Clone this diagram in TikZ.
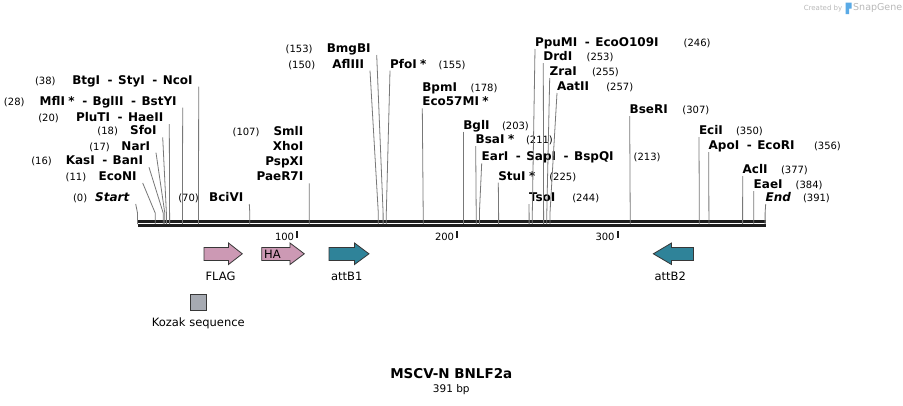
\documentclass[tikz,border=0pt]{standalone}
\usepackage{fontspec}
\setmainfont{DejaVu Sans}
\usepackage{tikz}
\usetikzlibrary{positioning}

\definecolor{cutgray}{RGB}{120,120,120}
\definecolor{bbone}{RGB}{30,30,30}
\definecolor{tagpink}{RGB}{204,153,180}
\definecolor{attteal}{RGB}{47,131,153}
\definecolor{kozakgray}{RGB}{166,170,178}
\definecolor{outl}{RGB}{55,55,55}
\definecolor{wmgray}{RGB}{185,185,185}
\definecolor{wmblue}{RGB}{90,170,230}

\newcommand{\enz}[1]{{\fontsize{12}{15.2}\selectfont\bfseries #1}}
\newcommand{\hy}{\hspace{7.5pt}-\hspace{5.5pt}}
\newcommand{\st}{\hspace{3.5pt}*}
\newcommand{\cutL}[3]{\makebox[#1pt][s]{#2\hfill\enz{#3}}}   % (nn) name, name ends at right
\newcommand{\cutR}[3]{\makebox[#1pt][l]{\enz{#2}}#3}         % name (nn)

\begin{document}
\begin{tikzpicture}[x=1pt,y=-1pt,
        lblL/.style={anchor=south east,inner sep=0pt,outer xsep=6pt,outer ysep=0pt,text depth=2.5pt,font=\fontsize{10}{15.2}\selectfont},
        lblR/.style={anchor=south west,inner sep=0pt,outer sep=0pt,text depth=2.5pt,font=\fontsize{10}{15.2}\selectfont},
        cut/.style={draw=cutgray,line width=0.8pt},
        feat/.style={font=\fontsize{11.5}{13}\selectfont,inner sep=0pt},
        tagarrow/.style={fill=tagpink,draw=outl,line width=0.8pt},
        attarrow/.style={fill=attteal,draw=outl,line width=0.8pt},
        tick/.style={line width=1.8pt,draw=bbone}]
    \fill[white] (0,0) rectangle (903,405);
    \useasboundingbox (0,0) rectangle (903,405);

    % backbone
    \coordinate (bbL) at (137.5,225.5);
    \coordinate (bbR) at (765.7,225.5);
    \draw[line width=2.8pt,bbone] (bbL) -- (bbR);
    \draw[line width=2.4pt,bbone] ([yshift=4.1pt]bbL) -- ([yshift=4.1pt]bbR);
    \coordinate (kn) at (0,213);   % where the slanted lines turn

    % ticks
    \draw[tick] (296.8,231) -- (296.8,238);
    \draw[tick] (457.3,231) -- (457.3,238);
    \draw[tick] (617.8,231) -- (617.8,238);
    \node[anchor=east,inner sep=0pt,font=\fontsize{10}{12}\selectfont] (t100) at (294.3,237) {100};
    \node[anchor=east,inner sep=0pt,font=\fontsize{10}{12}\selectfont] (t200) at (454.3,237) {200};
    \node[anchor=east,inner sep=0pt,font=\fontsize{10}{12}\selectfont] (t300) at (614.8,237) {300};

    % sites on the backbone
    \coordinate (s0) at (137.5,224.1);
    \coordinate (s11) at (155.2,224.1);
    \coordinate (s16) at (163.2,224.1);
    \coordinate (s17) at (164.8,224.1);
    \coordinate (s18) at (166.4,224.1);
    \coordinate (s20) at (169.6,224.1);
    \coordinate (s28) at (182.4,224.1);
    \coordinate (s38) at (198.5,224.1);
    \coordinate (s70) at (249.8,224.1);
    \coordinate (s107) at (309.2,224.1);
    \coordinate (s150) at (378.3,224.1);
    \coordinate (s153) at (383.1,224.1);
    \coordinate (s155) at (386.3,224.1);
    \coordinate (s178) at (423.2,224.1);
    \coordinate (s203) at (463.3,224.1);
    \coordinate (s211) at (476.2,224.1);
    \coordinate (s213) at (479.4,224.1);
    \coordinate (s225) at (498.6,224.1);
    \coordinate (s244) at (529.1,224.1);
    \coordinate (s246) at (532.3,224.1);
    \coordinate (s253) at (543.6,224.1);
    \coordinate (s255) at (546.8,224.1);
    \coordinate (s257) at (550.0,224.1);
    \coordinate (s307) at (630.2,224.1);
    \coordinate (s350) at (699.3,224.1);
    \coordinate (s356) at (708.9,224.1);
    \coordinate (s377) at (742.6,224.1);
    \coordinate (s384) at (753.8,224.1);
    \coordinate (s391) at (765.1,224.1);

    % labels left of their line
    \node[lblL] (l38) at (198.7,86.7) {\cutL{157.6}{(38)}{BtgI\hy StyI\hy NcoI}};
    \node[lblL] (l28) at (182.7,107.7) {\cutL{172.7}{(28)}{MflI\st\hy BglII\hy BstYI}};
    \node[lblL] (l20) at (169.3,124) {\cutL{125}{(20)}{PluTI\hy HaeII}};
    \node[lblL] (l18) at (162.7,137.3) {\cutL{59.3}{(18)}{SfoI}};
    \node[lblL] (l17) at (156,152.7) {\cutL{60.7}{(17)}{NarI}};
    \node[lblL] (l16) at (149,167.3) {\cutL{111.7}{(16)}{KasI\hy BanI}};
    \node[lblL] (l11) at (142.7,183) {\cutL{71}{(11)}{EcoNI}};
    \node[lblL] (l0) at (135.7,204) {\cutL{56.7}{(0)}{\textit{Start}}};
    \node[lblL] (l70) at (249.3,204) {\cutL{65}{(70)}{BciVI}};
    \node[lblL,align=right] (l107) at (309.3,183.3) {\cutL{70.7}{(107)}{SmlI}\\\enz{XhoI}\\\enz{PspXI}\\\enz{PaeR7I}};
    \node[lblL] (l150) at (370,70.7) {\cutL{75.7}{(150)}{AflIII}};
    \node[lblL] (l153) at (376.7,55) {\cutL{85}{(153)}{BmgBI}};

    % labels right of their line
    \node[lblR] (l155) at (390,70.7) {\cutR{48.7}{PfoI\st}{(155)}};
    \node[lblR,align=left] (l178) at (422.3,108.3) {\cutR{48.3}{BpmI}{(178)}\\[-0.8pt]\enz{Eco57MI\st}};
    \node[lblR] (l203) at (463.3,131.7) {\cutR{38.7}{BglI}{(203)}};
    \node[lblR] (l211) at (475.7,146) {\cutR{50.3}{BsaI\st}{(211)}};
    \node[lblR] (l213) at (481.7,163.3) {\cutR{152}{EarI\hy SapI\hy BspQI}{(213)}};
    \node[lblR] (l225) at (498.3,182.7) {\cutR{51}{StuI\st}{(225)}};
    \node[lblR] (l244) at (529,204) {\cutR{43.3}{TsoI}{(244)}};
    \node[lblR] (l246) at (535,49) {\cutR{148.7}{PpuMI\hy EcoO109I}{(246)}};
    \node[lblR] (l253) at (543.3,63) {\cutR{43.3}{DrdI}{(253)}};
    \node[lblR] (l255) at (549.7,78) {\cutR{42.3}{ZraI}{(255)}};
    \node[lblR] (l257) at (557,93) {\cutR{49.3}{AatII}{(257)}};
    \node[lblR] (l307) at (629.7,116) {\cutR{52.7}{BseRI}{(307)}};
    \node[lblR] (l350) at (699,137) {\cutR{37}{EciI}{(350)}};
    \node[lblR] (l356) at (708.7,152) {\cutR{105.3}{ApoI\hy EcoRI}{(356)}};
    \node[lblR] (l377) at (742.7,176) {\cutR{38.3}{AclI}{(377)}};
    \node[lblR] (l384) at (753.7,191) {\cutR{42}{EaeI}{(384)}};
    \node[lblR] (l391) at (765.7,204) {\cutR{37.3}{\textit{End}}{(391)}};

    % cut lines
    \draw[cut] (l0.south east) -- (s0 |- kn) -- (s0);
    \draw[cut] (l11.south east) -- (s11 |- kn) -- (s11);
    \draw[cut] (l16.south east) -- (s16 |- kn) -- (s16);
    \draw[cut] (l17.south east) -- (s17 |- kn) -- (s17);
    \draw[cut] (l18.south east) -- (s18 |- kn) -- (s18);
    \draw[cut] (l20.south east) -- (s20 |- kn) -- (s20);
    \draw[cut] (l28.south east) -- (s28 |- kn) -- (s28);
    \draw[cut] (l38.south east) -- (s38 |- kn) -- (s38);
    \draw[cut] (l70.south east) -- (s70 |- kn) -- (s70);
    \draw[cut] (l107.south east) -- (s107 |- kn) -- (s107);
    \draw[cut] (l150.south east) -- (s150 |- kn) -- (s150);
    \draw[cut] (l153.south east) -- (s153 |- kn) -- (s153);
    \draw[cut] (l155.south west) -- (s155 |- kn) -- (s155);
    \draw[cut] (l178.south west) -- (s178 |- kn) -- (s178);
    \draw[cut] (l203.south west) -- (s203 |- kn) -- (s203);
    \draw[cut] (l211.south west) -- (s211 |- kn) -- (s211);
    \draw[cut] (l213.south west) -- (s213 |- kn) -- (s213);
    \draw[cut] (l225.south west) -- (s225 |- kn) -- (s225);
    \draw[cut] (l244.south west) -- (s244 |- kn) -- (s244);
    \draw[cut] (l246.south west) -- (s246 |- kn) -- (s246);
    \draw[cut] (l253.south west) -- (s253 |- kn) -- (s253);
    \draw[cut] (l255.south west) -- (s255 |- kn) -- (s255);
    \draw[cut] (l257.south west) -- (s257 |- kn) -- (s257);
    \draw[cut] (l307.south west) -- (s307 |- kn) -- (s307);
    \draw[cut] (l350.south west) -- (s350 |- kn) -- (s350);
    \draw[cut] (l356.south west) -- (s356 |- kn) -- (s356);
    \draw[cut] (l377.south west) -- (s377 |- kn) -- (s377);
    \draw[cut] (l384.south west) -- (s384 |- kn) -- (s384);
    \draw[cut] (l391.south west) -- (s391 |- kn) -- (s391);

    % features
    \draw[tagarrow] (204,247.5) -- (228.5,247.5) -- (228.5,243) -- (242.3,253.8) -- (228.5,264.5) -- (228.5,260.5) -- (204,260.5) -- cycle;   %FLAG
    \draw[tagarrow] (261.7,247.5) -- (290,247.5) -- (290,243) -- (304.3,253.8) -- (290,264.5) -- (290,260.5) -- (261.7,260.5) -- cycle;   %HA
    \draw[attarrow] (329,247.5) -- (354.5,247.5) -- (354.5,243) -- (369,253.8) -- (354.5,264.5) -- (354.5,260.5) -- (329,260.5) -- cycle;   %attB1
    \draw[attarrow] (693.5,247.5) -- (671.5,247.5) -- (671.5,243) -- (653.3,253.8) -- (671.5,264.5) -- (671.5,260.5) -- (693.5,260.5) -- cycle;   %attB2
    \node[feat,anchor=west] (ha) at (264,254.3) {HA};
    \node[feat] (flag) at (220.5,276.5) {FLAG};
    \node[feat] (attb1) at (346.7,276.5) {attB1};
    \node[feat] (attb2) at (670.3,276.5) {attB2};
    \node[draw=outl,fill=kozakgray,line width=0.8pt,minimum size=16.5pt,inner sep=0pt] (kozak) at (198.3,302.5) {};
    \node[feat,below=6pt of kozak] (kozaklbl) {Kozak sequence};

    % title
    \node[inner sep=0pt,font=\fontsize{13.5}{15}\selectfont\bfseries] (title) at (451.3,374) {MSCV-N BNLF2a};
    \node[inner sep=0pt,font=\fontsize{10.5}{12}\selectfont] (size) at (451.3,389.3) {391 bp};

    % watermark
    \node[anchor=east,inner sep=0pt,text=wmgray,font=\fontsize{7}{8}\selectfont] (wm1) at (842.5,8.3) {Created by};
    \fill[wmblue] (845.5,2.5) rectangle (849,14) (845.5,2.5) rectangle (851.5,8.5);
    \node[anchor=west,inner sep=0pt,text=wmgray,font=\fontsize{9.5}{10}\selectfont] (wm2) at (853,8.3) {SnapGene};
\end{tikzpicture}
\end{document}
